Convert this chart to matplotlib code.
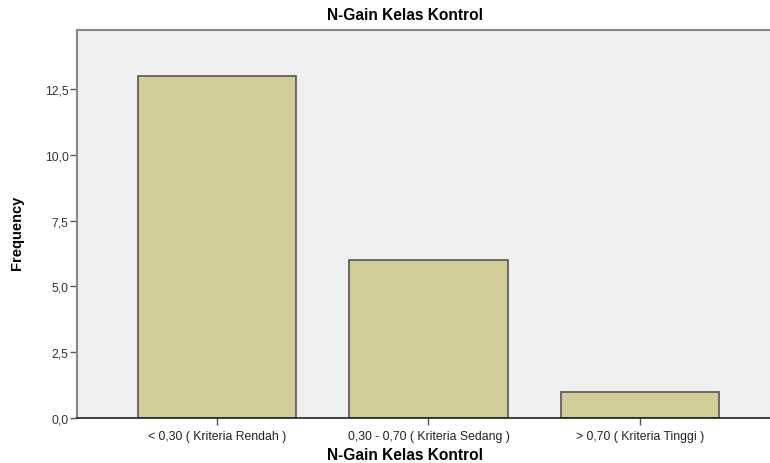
import matplotlib
matplotlib.use("Agg")
import matplotlib.pyplot as plt
from matplotlib.ticker import FuncFormatter

categories = ["< 0,30 ( Kriteria Rendah )", "0,30 - 0,70 ( Kriteria Sedang )", "> 0,70 ( Kriteria Tinggi )"]
frequency = [13, 6, 1]
y_ticks = [0.0, 2.5, 5.0, 7.5, 10.0, 12.5]

plt.rcParams["font.family"] = ["Liberation Sans", "DejaVu Sans"]

fig = plt.figure(figsize=(7.7, 4.64), dpi=100)
ax = fig.add_axes([0.1, 0.097, 0.9, 0.836])
ax.set_facecolor("#efefef")

pos = list(range(len(categories)))
ax.bar(pos, frequency, width=0.75, color="#d3ce97", edgecolor="#555550", linewidth=1.2)

ax.set_xlim(-0.663, 2.616)
ax.set_ylim(0, 14.75)
ax.set_xticks(pos)
ax.set_xticklabels(categories, fontsize=8.8, color="#222222")
ax.set_yticks(y_ticks)
ax.yaxis.set_major_formatter(FuncFormatter(lambda v, _: f"{v:.1f}".replace(".", ",")))
ax.tick_params(axis="y", labelsize=8.8, labelcolor="#333333", length=5, width=1, color="#555555", pad=1)
ax.tick_params(axis="x", length=5, width=1, color="#555555", pad=4)

for side in ["top", "left"]:
    ax.spines[side].set_color("#888888")
    ax.spines[side].set_linewidth(1.5)
ax.spines["right"].set_visible(False)
ax.spines["bottom"].set_color("#222222")
ax.spines["bottom"].set_linewidth(1.2)

# title and x label sit a bit left of the axes centre in the reference
ax.set_title("N-Gain Kelas Kontrol", fontsize=11.2, fontweight="bold", pad=8, x=0.473)
ax.set_xlabel("N-Gain Kelas Kontrol", fontsize=11.2, fontweight="bold", labelpad=4)
ax.xaxis.set_label_coords(0.473, -0.075)
ax.set_ylabel("Frequency", fontsize=10.5, fontweight="bold")
ax.yaxis.set_label_coords(-0.077, 0.48)

fig.savefig("out.png", dpi=100)
